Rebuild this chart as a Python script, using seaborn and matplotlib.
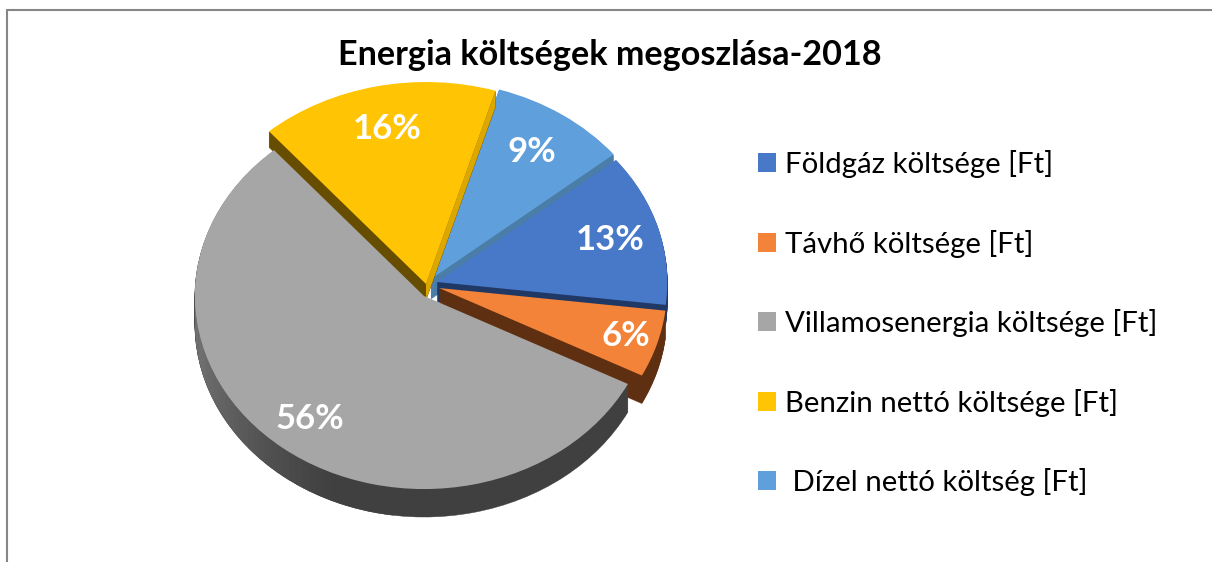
import numpy as np
import matplotlib
matplotlib.use('Agg')
import matplotlib.pyplot as plt
from matplotlib.lines import Line2D
from matplotlib.patches import Wedge
import seaborn as sns

# --- datos ---
categorias = ['Földgáz költsége [Ft]', 'Távhő költsége [Ft]', 'Villamosenergia költsége [Ft]',
              'Benzin nettó költsége [Ft]', ' Dízel nettó költség [Ft]']
valores = [12.6, 5.6, 55.6, 15.9, 9.4]
titulo = 'Energia költségek megoszlása-2018'

# --- estilo ---
colores = ['#4878c8', '#f38338', '#a6a6a6', '#ffc505', '#5f9fdc']
lados = ['#1f3864', '#5f2f12', '#404040', '#664d00', '#4a7ea8']
vertices = [(437, 282), (439, 288), (424, 296), (426, 284), (431, 279)]   # px
radios = [0.98, 0.97, 0.975, 1.02, 1.0]
profundidad = [20, 28, 28, 16, 8]      # px
orden_z = [2, 3, 4, 1, 0]              # de atras hacia adelante
dist_pct = [0.765, 0.83, 0.79, 0.80, 0.77]

W, H = 1212, 562
rx, ry = 235, 198      # radios en px

sns.set_theme(style='white')
plt.rcParams['font.family'] = ['Lato', 'DejaVu Sans']

fig = plt.figure(figsize=(W / 100, H / 100), dpi=100, facecolor='white')
ax = fig.add_axes([0, 0, 1, 1])

wedges, _, autotexts = ax.pie(valores, colors=sns.color_palette(colores), startangle=39,
                              counterclock=False, autopct='%.0f%%', wedgeprops={'linewidth': 0})
ax.set_aspect('auto')
ax.set_xlim(0, W / rx)
ax.set_ylim(0, H / ry)
ax.axis('off')

for i, w in enumerate(wedges):
    w.set_center((vertices[i][0] / rx, (H - vertices[i][1]) / ry))
    w.set_radius(radios[i])
    z = 10 * orden_z[i] + 5
    w.set_zorder(z + 1)
    d = profundidad[i] / ry
    # cuerpo extruido hacia abajo
    for k in np.arange(1, profundidad[i] + 1):
        ax.add_patch(Wedge((w.center[0], w.center[1] - k / ry), w.r, w.theta1, w.theta2,
                           facecolor=lados[i], edgecolor=lados[i], linewidth=0.3, zorder=z))
    # borde derecho mas claro en Benzin
    if i == 3:
        a = np.radians(w.theta1)
        x0, y0 = w.center
        x1, y1 = x0 + w.r * np.cos(a), y0 + w.r * np.sin(a)
        ax.fill([x0, x1, x1, x0], [y0, y1, y1 - d, y0 - d], color='#dca800', lw=0, zorder=z + 0.5)
    # punta del Dizel junto al centro
    if i == 4:
        for k in np.arange(8, 21):
            ax.add_patch(Wedge((w.center[0], w.center[1] - k / ry), 0.05, w.theta1, w.theta2,
                               facecolor=lados[i], edgecolor=lados[i], linewidth=0.3, zorder=z))
    # degradado del lado gris
    if i == 2:
        angulos = np.arange(170, 262, 2)
        for t0 in angulos:
            t1 = t0 + 2.4
            f = np.clip((t0 - 170) / 75, 0, 1)
            g = 0.52 * (1 - f) + 0.25 * f
            arco = np.radians(np.linspace(t0, t1, 4))
            xs = w.center[0] + w.r * np.cos(arco)
            ys = w.center[1] + w.r * np.sin(arco)
            ax.fill(np.r_[xs, xs[::-1]], np.r_[ys, ys[::-1] - d], color=(g, g, g), lw=0, zorder=z + 0.5)

for i, (w, t) in enumerate(zip(wedges, autotexts)):
    mid = np.radians((w.theta1 + w.theta2) / 2)
    t.set_position((w.center[0] + dist_pct[i] * np.cos(mid), w.center[1] + dist_pct[i] * np.sin(mid)))
    t.set(color='white', fontsize=25, fontweight='bold', zorder=100, ha='center', va='center')

fig.text(610 / W, 1 - 55 / H, titulo, ha='center', va='center', fontsize=24.6, fontweight='bold', color='black')

ax.legend(wedges, categorias, loc='upper left', bbox_to_anchor=(758 / W, 1 - 150 / H), bbox_transform=fig.transFigure,
          frameon=False, fontsize=21.2, labelspacing=1.75, handlelength=0.61, handleheight=0.61,
          handletextpad=0.3, borderpad=0, borderaxespad=0, labelcolor='black')

# marco gris del grafico
fig.add_artist(Line2D([6.5 / W, 6.5 / W], [0, 1 - 10 / H], color='#868686', lw=1.5))
fig.add_artist(Line2D([6.5 / W, 1], [1 - 10 / H, 1 - 10 / H], color='#868686', lw=1.5))

fig.savefig('out.png', dpi=100)
